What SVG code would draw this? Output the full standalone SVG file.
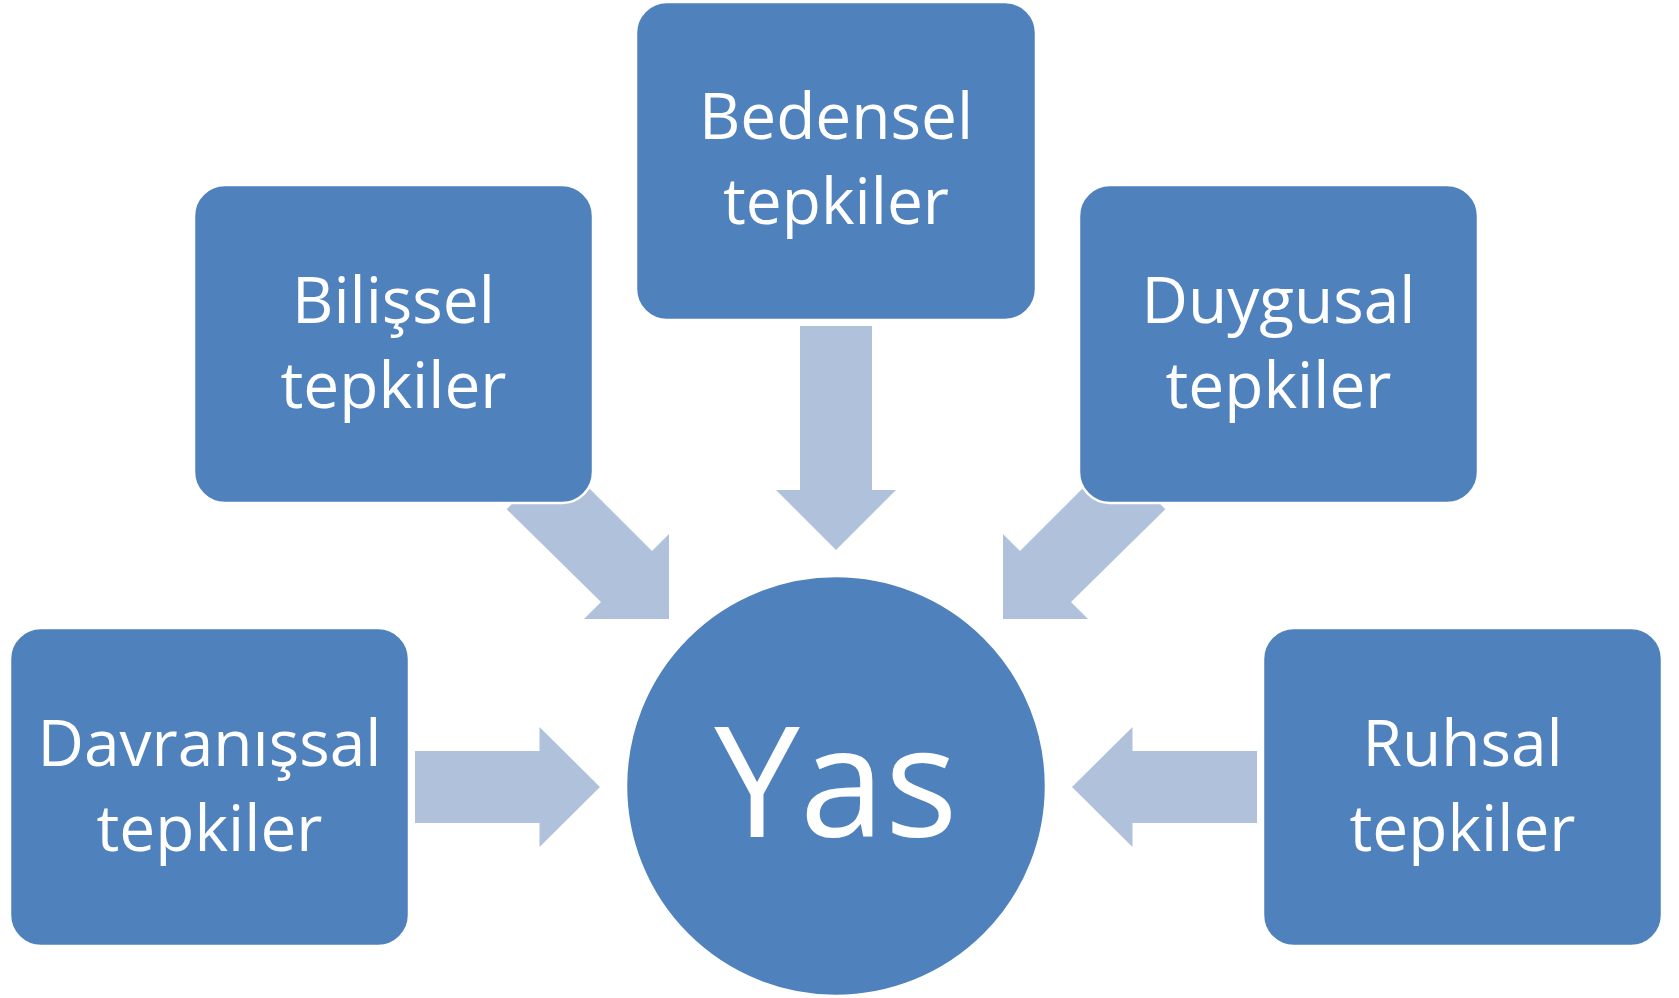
<svg xmlns="http://www.w3.org/2000/svg" width="1679" height="998" viewBox="0 0 1679 998">
  <style>
    .box { fill: #4F81BD; stroke: #FFFFFF; stroke-width: 2.5; }
    .arrow { fill: #B0C1DB; stroke: none; }
    .lbl { font-family: "Open Sans", "Noto Sans", "DejaVu Sans", sans-serif; font-size: 64px; fill: #FFFFFF; text-anchor: middle; }
    .big { font-family: "Open Sans", "Noto Sans", "DejaVu Sans", sans-serif; font-size: 153px; fill: #FFFFFF; text-anchor: middle; }
  </style>
  <rect x="0" y="0" width="1679" height="998" fill="#FFFFFF"/>
  <g id="connectors">
    <polygon class="arrow" points="800,326 872,326 872,490 896,490 836,550 776,490 800,490"/>
    <polygon class="arrow" points="415,751 539.5,751 539.5,727 600,787 539.5,847 539.5,823 415,823"/>
    <polygon class="arrow" points="1257,751 1132.5,751 1132.5,727 1072,787 1132.5,847 1132.5,823 1257,823"/>
    <polygon class="arrow" points="557.7,456.7 652,551 669,534 669,619 584,619 601,602 506.7,509.3"/>
    <polygon class="arrow" points="1114.3,456.7 1020,551 1003,534 1003,619 1088,619 1071,602 1165.3,509.3"/>
  </g>
  <g id="node-bedensel">
    <rect class="box" x="636" y="2" width="400" height="318" rx="31" ry="31"/>
    <text class="lbl" x="836" y="139">Bedensel</text>
    <text class="lbl" x="836" y="224">tepkiler</text>
  </g>
  <g id="node-bilissel">
    <rect class="box" x="194" y="185" width="399" height="318" rx="31" ry="31"/>
    <text class="lbl" x="393.5" y="323">Bilişsel</text>
    <text class="lbl" x="393.5" y="408">tepkiler</text>
  </g>
  <g id="node-duygusal">
    <rect class="box" x="1079" y="185" width="399" height="318" rx="31" ry="31"/>
    <text class="lbl" x="1278.5" y="323">Duygusal</text>
    <text class="lbl" x="1278.5" y="408">tepkiler</text>
  </g>
  <g id="node-davranissal">
    <rect class="box" x="10" y="628" width="399" height="318" rx="31" ry="31"/>
    <text class="lbl" x="209.5" y="766">Davranışsal</text>
    <text class="lbl" x="209.5" y="851">tepkiler</text>
  </g>
  <g id="node-ruhsal">
    <rect class="box" x="1263" y="628" width="399" height="318" rx="31" ry="31"/>
    <text class="lbl" x="1462.5" y="766">Ruhsal</text>
    <text class="lbl" x="1462.5" y="851">tepkiler</text>
  </g>
  <g id="node-yas">
    <circle class="box" cx="836" cy="786" r="210"/>
    <text class="big" x="836" y="837">Yas</text>
  </g>
</svg>
